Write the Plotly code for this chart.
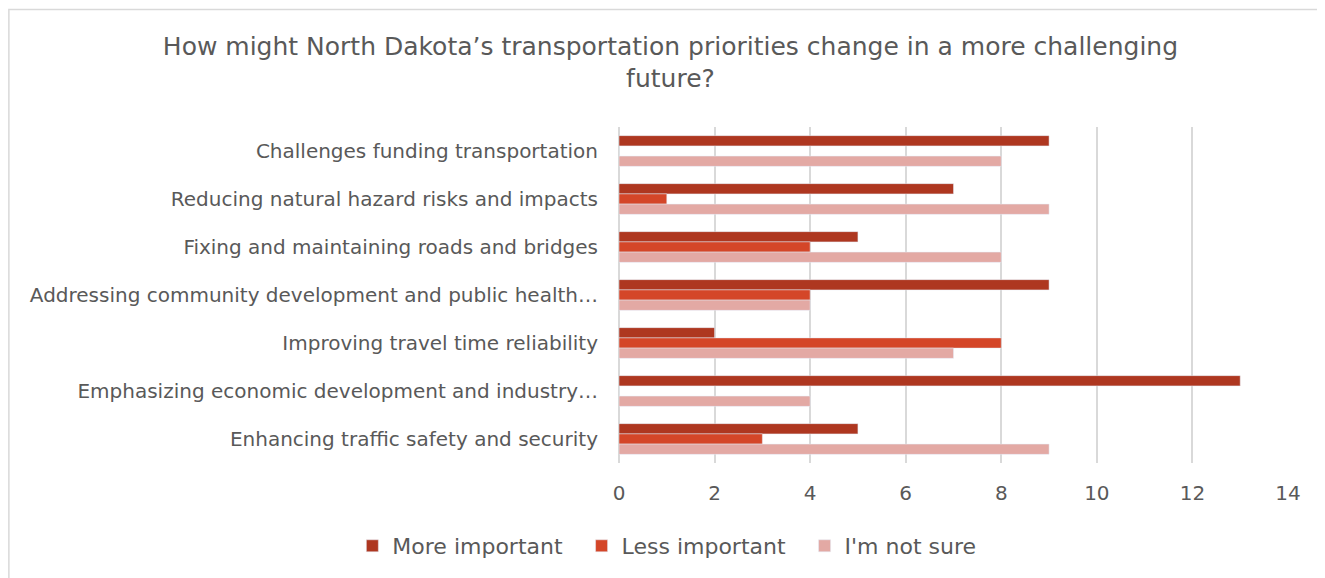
import plotly.graph_objects as go

# survey categories, top to bottom as shown
categories = [
    "Challenges funding transportation",
    "Reducing natural hazard risks and impacts",
    "Fixing and maintaining roads and bridges",
    "Addressing community development and public health…",
    "Improving travel time reliability",
    "Emphasizing economic development and industry…",
    "Enhancing traffic safety and security",
]

more_important = [9, 7, 5, 9, 2, 13, 5]
less_important = [0, 1, 4, 4, 8, 0, 3]
not_sure = [8, 9, 8, 4, 7, 4, 9]

x_ticks = [0, 2, 4, 6, 8, 10, 12, 14]

series = [
    ("More important", more_important, "#AE3720"),
    ("Less important", less_important, "#D44628"),
    ("I'm not sure", not_sure, "#E3A9A4"),
]

font_family = "DejaVu Sans, Open Sans, sans-serif"
text_color = "#595959"

fig = go.Figure()
for name, vals, color in series:
    fig.add_trace(go.Bar(
        name=name + "\u00a0\u00a0",
        x=vals,
        y=categories,
        orientation="h",
        marker=dict(color=color),
        hovertemplate="%{y}: %{x}<extra>" + name + "</extra>",
    ))

# page body has an 8px margin, so the figure is sized 8px smaller
fig.update_layout(
    width=1317,
    height=570,
    barmode="group",
    bargap=0.36,
    bargroupgap=0,
    plot_bgcolor="white",
    paper_bgcolor="white",
    font=dict(family=font_family, color=text_color),
    title=dict(
        text="How might North Dakota’s transportation priorities change in a more challenging<br>future?",
        x=0.503, xanchor="center", y=0.918, yanchor="top",
        font=dict(size=25, color=text_color),
    ),
    margin=dict(l=611, r=37, t=119, b=115, autoexpand=False),
    xaxis=dict(
        range=[0, 14],
        tickvals=x_ticks,
        showgrid=True,
        gridcolor="#D9D9D9",
        gridwidth=1.5,
        zeroline=True,
        zerolinecolor="#D9D9D9",
        zerolinewidth=1.5,
        tickfont=dict(size=20, color=text_color),
        ticks="",
        ticklabelstandoff=16,
    ),
    yaxis=dict(
        autorange="reversed",
        tickfont=dict(size=20, color=text_color),
        ticks="outside",
        ticklen=16,
        tickcolor="rgba(0,0,0,0)",
        showgrid=False,
    ),
    legend=dict(
        orientation="h",
        x=0.082, xanchor="center",
        y=-0.247, yanchor="middle",
        font=dict(size=22, color=text_color),
        traceorder="normal",
        itemwidth=30,
    ),
    shapes=[dict(
        type="rect", xref="paper", yref="paper",
        x0=-0.912, x1=1.2, y0=-0.5, y1=1.3497,
        line=dict(color="#D9D9D9", width=1.5),
        fillcolor="rgba(0,0,0,0)",
        layer="below",
    )],
)

fig.write_html("out.html")
